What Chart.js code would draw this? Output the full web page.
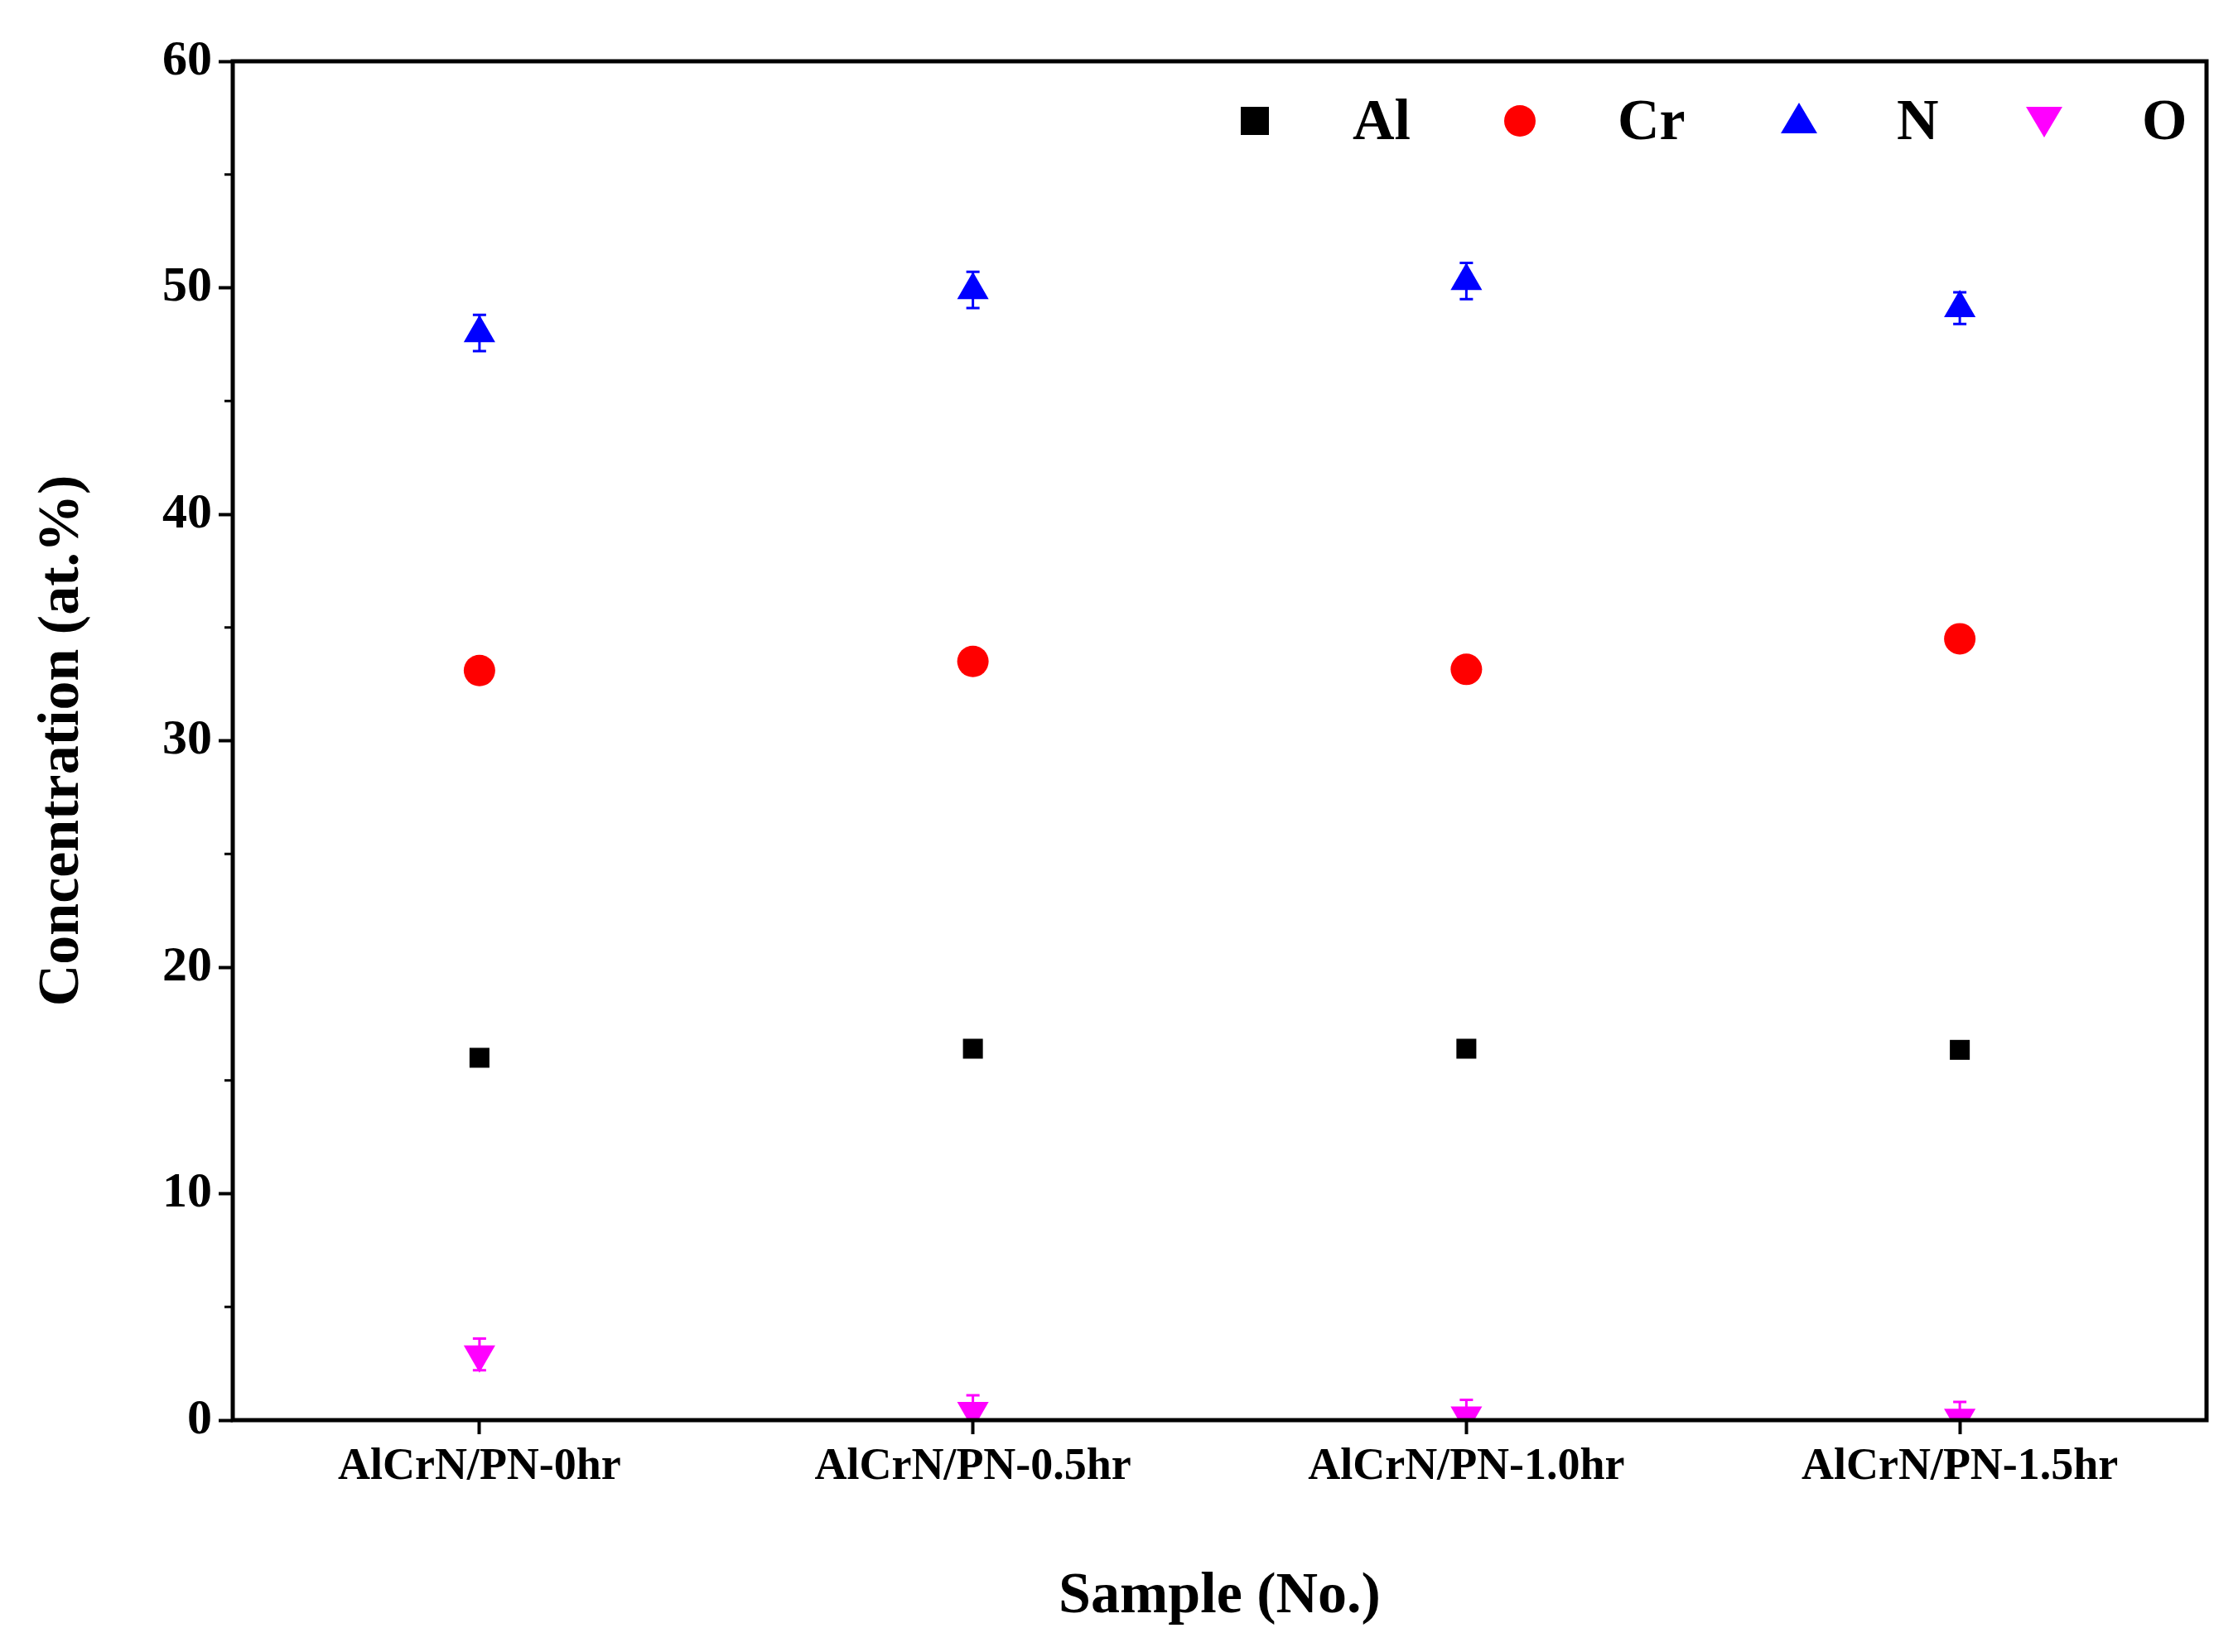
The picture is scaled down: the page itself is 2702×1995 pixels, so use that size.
<!DOCTYPE html>
<html><head><meta charset="utf-8">
<script src="https://cdn.jsdelivr.net/npm/chart.js@4"></script>
<style>html,body{margin:0;padding:0;background:#fff}#w{width:2702px;height:1995px}</style>
</head><body><div id="w"><canvas id="c"></canvas></div>
<script>
const categories = ["AlCrN/PN-0hr","AlCrN/PN-0.5hr","AlCrN/PN-1.0hr","AlCrN/PN-1.5hr"];
const alValues = [16.0, 16.4, 16.4, 16.35];
const crValues = [33.1, 33.5, 33.15, 34.5];
const nValues = [48.0, 49.9, 50.3, 49.1];
const oValues = [2.9, 0.4, 0.2, 0.1];
const alErr = [0.2, 0.2, 0.2, 0.2];
const crErr = [0.2, 0.2, 0.2, 0.2];
const nErr = [0.8, 0.8, 0.8, 0.7];
const oErr = [0.7, 0.7, 0.7, 0.7];
const yTicks = [0,10,20,30,40,50,60];
const FONT = "'Liberation Serif','Times New Roman',serif";

const L=281,R=2664,T=74,B=1715;
const mk=(label,data,err,color,style,r)=>({label,data,err,backgroundColor:color,borderColor:color,pointStyle:style,pointRadius:r,pointHoverRadius:r,showLine:false,borderWidth:0,clip:{left:false,right:false,top:false,bottom:0}});
const datasets=[
 mk("Al",alValues,alErr,"#000000","rect",17),
 mk("Cr",crValues,crErr,"#ff0000","circle",19),
 mk("N",nValues,nErr,"#0000ff","triangle",22),
 mk("O",oValues,oErr,"#ff00ff","triangle",22)
];
datasets[3].rotation=180;

const extras={id:"extras",
 beforeDatasetsDraw(ch){
  const c=ch.ctx,y=ch.scales.y,x=ch.scales.x;
  c.save();c.beginPath();c.rect(ch.chartArea.left,ch.chartArea.top,ch.chartArea.right-ch.chartArea.left,ch.chartArea.bottom-ch.chartArea.top);c.clip();
  ch.data.datasets.forEach(d=>{c.strokeStyle=d.borderColor;c.lineWidth=3;
   d.data.forEach((v,i)=>{const px=x.getPixelForValue(i);c.beginPath();c.moveTo(px,y.getPixelForValue(v-d.err[i]));c.lineTo(px,y.getPixelForValue(v+d.err[i]));c.stroke();
    c.beginPath();c.moveTo(px-8,y.getPixelForValue(v+d.err[i]));c.lineTo(px+8,y.getPixelForValue(v+d.err[i]));c.moveTo(px-8,y.getPixelForValue(v-d.err[i]));c.lineTo(px+8,y.getPixelForValue(v-d.err[i]));c.stroke();});});
  c.restore();
 },
 afterDraw(ch){
  const c=ch.ctx,a=ch.chartArea,y=ch.scales.y;
  c.save();c.strokeStyle="#000";c.lineWidth=5;c.strokeRect(a.left,a.top,a.right-a.left,a.bottom-a.top);
  c.lineWidth=3;
  for(let v=5;v<60;v+=10){const py=y.getPixelForValue(v);c.beginPath();c.moveTo(a.left,py);c.lineTo(a.left-10,py);c.stroke();}
  // legend
  const xs=[1515,1835,2172,2468];
  c.font="bold 70px "+FONT;c.textBaseline="middle";c.fillStyle="#000";
  ch.data.datasets.forEach((d,i)=>{const cx=xs[i],cy=146;
   c.fillStyle=d.backgroundColor;c.beginPath();
   if(d.pointStyle==="rect"){c.fillRect(cx-17,cy-17,34,34);}
   else if(d.pointStyle==="circle"){c.arc(cx,cy,19,0,Math.PI*2);c.fill();}
   else if(d.rotation){c.moveTo(cx-22,cy-17);c.lineTo(cx+22,cy-17);c.lineTo(cx,cy+20);c.closePath();c.fill();}
   else {c.moveTo(cx-22,cy+15);c.lineTo(cx+22,cy+15);c.lineTo(cx,cy-22);c.closePath();c.fill();}
   c.fillStyle="#000";c.textAlign="left";c.fillText(d.label,cx+118,cy+4);});
  c.restore();
 }};

new Chart(document.getElementById("c"),{type:"line",
 data:{labels:categories,datasets},
 options:{responsive:true,maintainAspectRatio:false,animation:false,
  layout:{padding:{left:30,right:2702-R,top:T,bottom:20}},
  plugins:{legend:{display:false},tooltip:{enabled:false}},
  scales:{
   x:{type:"category",offset:true,grid:{display:true,drawOnChartArea:false,drawTicks:true,tickLength:17,tickWidth:4,tickColor:"#000",offset:false},border:{display:false},
      ticks:{color:"#000",font:{family:FONT,weight:"bold",size:54},padding:8,maxRotation:0},
      title:{display:true,text:"Sample (No.)",color:"#000",font:{family:FONT,weight:"bold",size:70},padding:{top:40}},
      afterFit(s){s.height=1995-B-20;}},
   y:{min:0,max:60,afterBuildTicks(s){s.ticks=yTicks.map(v=>({value:v}));},
      grid:{drawOnChartArea:false,tickLength:17,tickWidth:4,tickColor:"#000"},border:{display:false},
      ticks:{color:"#000",font:{family:FONT,weight:"bold",size:60},padding:8},
      title:{display:true,text:"Concentration (at.%)",color:"#000",font:{family:FONT,weight:"bold",size:70},padding:{bottom:10}},
      afterFit(s){s.width=L-30;}}
  }},
 plugins:[extras]});
</script></body></html>
